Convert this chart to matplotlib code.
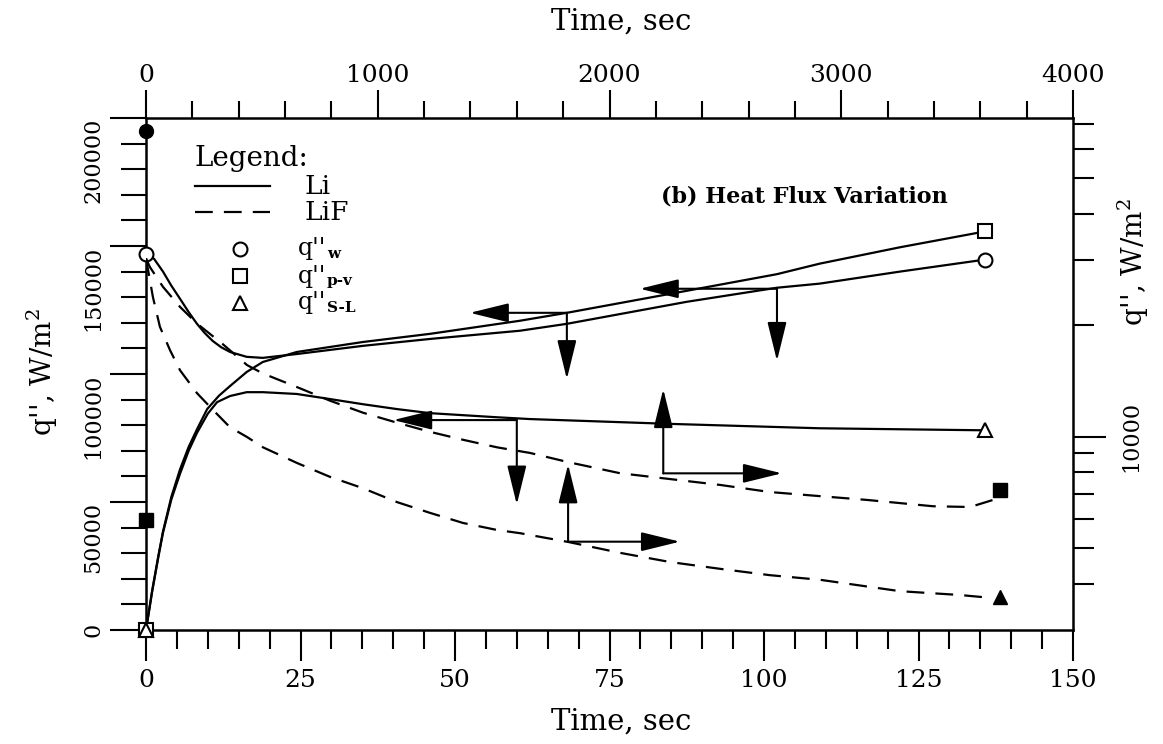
import matplotlib
matplotlib.use("Agg")
import matplotlib.pyplot as plt
from matplotlib.ticker import FixedLocator, NullFormatter, MultipleLocator
from matplotlib.lines import Line2D

plt.rcParams['font.family'] = ['DejaVu Serif']
plt.rcParams['mathtext.fontset'] = 'dejavuserif'

# ---------------- Li (solid): bottom time axis [s], left heat flux axis [W/m^2]
li_w_t = [0, 1.3, 2.75, 4.1, 5.5, 6.9, 8.25, 9.5, 10.8, 12.2, 13.6, 16.3, 18.9, 24.4, 35.1, 46, 60.5, 68.1,
          87.5, 102.1, 109, 122, 135.8]
li_w_q = [147000, 145000, 140000, 134500, 129400, 124200, 119600, 116000, 112900, 110400, 108600, 106700,
          106300, 107800, 111000, 113700, 116900, 119600, 128200, 133700, 135300, 140000, 144700]

li_pv_t = [0, 1, 2, 2.75, 4.1, 5.5, 6.9, 8.25, 9.9, 11.8, 13.6, 16.3, 18.9, 24.4, 35.1, 46, 60.5, 68.1,
           87.5, 102.1, 109, 122, 135.8]
li_pv_q = [0, 15500, 29000, 38500, 52000, 62700, 71500, 78400, 86300, 91500, 95300, 100800, 104700,
           108600, 112500, 115700, 120800, 123900, 132500, 139000, 143100, 149500, 155700]

li_sl_t = [0, 1, 2, 2.75, 4.1, 5.5, 6.9, 8.25, 10, 11.5, 13.6, 16.3, 18.9, 24.4, 29.8, 35.1, 40.6, 46,
           56.8, 62.1, 85, 109, 135.8]
li_sl_q = [0, 15000, 28500, 38000, 51000, 61000, 70000, 77000, 84500, 89000, 91400, 92900, 92900, 92200,
           90200, 88200, 86300, 84700, 83100, 82400, 80500, 78800, 78000]

# ---------------- LiF (dashed): top time axis [s], right log heat flux axis [W/m^2]
lif_pv_t = [0, 17, 73, 147, 220, 330, 436, 505, 652, 794, 936, 1083, 1225, 1368, 1515, 1657, 1821, 2045,
            2477, 2692, 2909, 3111, 3396, 3556, 3655, 3685]
lif_pv_q = [30300, 28700, 25400, 22400, 20200, 17800, 15600, 14800, 13600, 12500, 11600, 10900, 10300,
            9800, 9350, 9030, 8530, 7960, 7400, 7080, 6900, 6740, 6480, 6450, 6740, 7170]

lif_sl_t = [0, 30, 60, 104, 147, 220, 289, 362, 436, 505, 652, 794, 936, 1083, 1225, 1368, 1515, 1614,
            1821, 2045, 2261, 2477, 2692, 2909, 3253, 3512, 3654]
lif_sl_q = [30300, 23800, 19800, 17100, 15100, 13100, 11800, 10600, 9970, 9350, 8480, 7780, 7250, 6650,
            6220, 5840, 5590, 5480, 5190, 4850, 4580, 4390, 4220, 4100, 3820, 3730, 3660]

# end-point markers
li_mark_t = {'o': [0, 135.8], 's': [0, 135.8], '^': [0, 135.8]}
li_mark_q = {'o': [147000, 144700], 's': [0, 155700], '^': [0, 78000]}
lif_mark_t = {'o': [0], 's': [0, 3685], '^': [3685]}
lif_mark_q = {'o': [67000], 's': [5950, 7170], '^': [3690]}

bottom_ticks = [0, 25, 50, 75, 100, 125, 150]
left_ticks = [0, 50000, 100000, 150000, 200000]
top_ticks = [0, 1000, 2000, 3000, 4000]
right_major = [10000]
right_minor = [4000, 5000, 6000, 7000, 8000, 9000, 20000, 30000, 40000, 50000, 60000, 70000]

FW, FH = 1163, 744
fig = plt.figure(figsize=(FW / 100, FH / 100), dpi=100)
L, B, W, H = 146 / FW, 114 / FH, 927 / FW, 512 / FH
ax = fig.add_axes([L, B, W, H])
ax2 = fig.add_axes([L, B, W, H], frameon=False)

LW = 1.6
DASH = (0, (8, 5))

# Li curves
ax.plot(li_w_t, li_w_q, color='black', lw=LW)
ax.plot(li_pv_t, li_pv_q, color='black', lw=LW)
ax.plot(li_sl_t, li_sl_q, color='black', lw=LW)
for m in li_mark_t:
    ax.plot(li_mark_t[m], li_mark_q[m], linestyle='none', marker=m, ms=10, mfc='white',
            mec='black', mew=1.5, clip_on=False, zorder=5)

# LiF curves
ax2.plot(lif_pv_t, lif_pv_q, color='black', lw=LW, linestyle=DASH)
ax2.plot(lif_sl_t, lif_sl_q, color='black', lw=LW, linestyle=DASH)
for m in lif_mark_t:
    ax2.plot(lif_mark_t[m], lif_mark_q[m], linestyle='none', marker=m, ms=10, mfc='black',
             mec='black', clip_on=False, zorder=5)

# primary axes (bottom / left)
ax.set_xlim(0, 150)
ax.set_ylim(0, 200000)
ax.set_xticks(bottom_ticks)
ax.set_xticklabels([str(v) for v in bottom_ticks])
ax.xaxis.set_minor_locator(MultipleLocator(5))
ax.set_yticks(left_ticks)
ax.set_yticklabels([str(v) for v in left_ticks], rotation=90)
for lab, v in zip(ax.get_yticklabels(), left_ticks):
    lab.set_va('center' if v == 0 else 'top')
ax.yaxis.set_minor_locator(MultipleLocator(10000))
ax.tick_params(axis='x', which='major', direction='out', length=22, width=1.5, pad=6, labelsize=18)
ax.tick_params(axis='x', which='minor', direction='out', length=14, width=1.5)
ax.tick_params(axis='y', which='major', direction='out', length=26, width=1.5, pad=4, labelsize=16)
ax.tick_params(axis='y', which='minor', direction='out', length=18, width=1.5)
for s in ax.spines.values():
    s.set_linewidth(1.8)

# secondary axes (top / right, log)
ax2.xaxis.tick_top()
ax2.yaxis.tick_right()
ax2.set_xlim(0, 4000)
ax2.set_yscale('log')
ax2.set_ylim(3000, 72600)
ax2.set_xticks(top_ticks)
ax2.set_xticklabels([str(v) for v in top_ticks])
ax2.xaxis.set_minor_locator(MultipleLocator(200))
ax2.yaxis.set_major_locator(FixedLocator(right_major))
ax2.set_yticklabels([str(v) for v in right_major], rotation=90, va='center')
ax2.yaxis.set_minor_locator(FixedLocator(right_minor))
ax2.yaxis.set_minor_formatter(NullFormatter())
ax2.tick_params(axis='x', which='major', direction='out', length=20, width=1.5, pad=2, labelsize=18)
ax2.tick_params(axis='x', which='minor', direction='out', length=12, width=1.5)
ax2.tick_params(axis='y', which='major', direction='out', length=24, width=1.5, pad=10, labelsize=16)
ax2.tick_params(axis='y', which='minor', direction='out', length=15, width=1.5)

# axis labels
fig.text(621 / FW, 1 - 722 / FH, 'Time, sec', ha='center', va='center', fontsize=21)
fig.text(621 / FW, 1 - 22 / FH, 'Time, sec', ha='center', va='center', fontsize=21)
fig.text(42 / FW, 1 - 372 / FH, "q'', W/m$^2$", ha='center', va='center', rotation=90, fontsize=20)
fig.text(1133 / FW, 1 - 262 / FH, "q'', W/m$^2$", ha='center', va='center', rotation=90, fontsize=20)

# arrows (showing which axes each curve is read against)
def arrow(tip, base):
    ax.annotate('', xy=tip, xytext=base,
                arrowprops=dict(arrowstyle='-|>,head_length=1.1,head_width=0.27', color='black',
                                lw=1.5, shrinkA=0, shrinkB=0, mutation_scale=22))

arrow((52.4, 123900), (68.1, 123900)); arrow((68.1, 98000), (68.1, 123900))
arrow((79.9, 133300), (102.1, 133300)); arrow((102.1, 105100), (102.1, 133300))
arrow((40.0, 82000), (60.0, 82000)); arrow((60.0, 49000), (60.0, 82000))
arrow((68.3, 64700), (68.3, 34500)); arrow((86.4, 34500), (68.3, 34500))
arrow((83.7, 94100), (83.7, 61200)); arrow((102.9, 61200), (83.7, 61200))

# title
ax.text(0.71, 0.846, '(b) Heat Flux Variation', transform=ax.transAxes, ha='center', va='center',
        fontsize=16, fontweight='bold')

# hand-made legend
def ax_xy(px, py):
    return (px - 146) / 927, (630 - py) / 512

tx, ty = ax_xy(195, 159)
ax.text(tx, ty, 'Legend:', transform=ax.transAxes, ha='left', va='center', fontsize=20)
x0, y1 = ax_xy(195, 186)
x1, y2 = ax_xy(270, 212)
ax.add_line(Line2D([x0, x1], [y1, y1], transform=ax.transAxes, color='black', lw=LW))
ax.add_line(Line2D([x0, x1], [y2, y2], transform=ax.transAxes, color='black', lw=LW, linestyle=DASH))
lx, _ = ax_xy(305, 0)
ax.text(lx, y1, 'Li', transform=ax.transAxes, ha='left', va='center', fontsize=19)
ax.text(lx, y2, 'LiF', transform=ax.transAxes, ha='left', va='center', fontsize=19)
mx, _ = ax_xy(240, 0)
qx, _ = ax_xy(298, 0)
sx, _ = ax_xy(327, 0)
for m, py, sub in [('o', 249, 'w'), ('s', 276, 'p-v'), ('^', 303, 'S-L')]:
    _, yy = ax_xy(0, py)
    _, ys = ax_xy(0, py + 5)
    ax.plot([mx], [yy], transform=ax.transAxes, marker=m, ms=10, mfc='white', mec='black', mew=1.5)
    ax.text(qx, yy, "q''", transform=ax.transAxes, ha='left', va='center', fontsize=17)
    ax.text(sx, ys, sub, transform=ax.transAxes, ha='left', va='center', fontsize=11, fontweight='bold')

fig.savefig('out.png', dpi=100)
